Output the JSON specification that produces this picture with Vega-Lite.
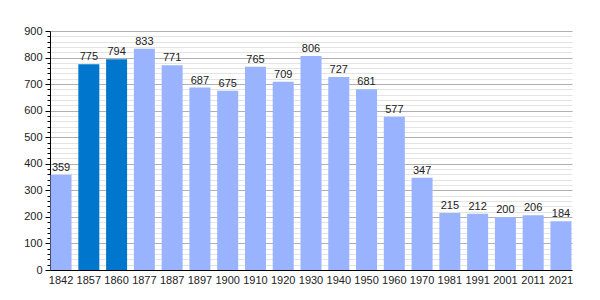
{
  "$schema": "https://vega.github.io/schema/vega-lite/v6.json",
  "autosize": "none",
  "width": 522,
  "height": 239,
  "padding": {"left": 50, "top": 31, "right": 28, "bottom": 30},
  "background": "white",
  "config": {
    "font": "Liberation Sans",
    "view": {"stroke": null}
  },
  "data": {
    "values": [
      {"year": "1842", "pop": 359},
      {"year": "1857", "pop": 775},
      {"year": "1860", "pop": 794},
      {"year": "1877", "pop": 833},
      {"year": "1887", "pop": 771},
      {"year": "1897", "pop": 687},
      {"year": "1900", "pop": 675},
      {"year": "1910", "pop": 765},
      {"year": "1920", "pop": 709},
      {"year": "1930", "pop": 806},
      {"year": "1940", "pop": 727},
      {"year": "1950", "pop": 681},
      {"year": "1960", "pop": 577},
      {"year": "1970", "pop": 347},
      {"year": "1981", "pop": 215},
      {"year": "1991", "pop": 212},
      {"year": "2001", "pop": 200},
      {"year": "2011", "pop": 206},
      {"year": "2021", "pop": 184}
    ]
  },
  "encoding": {
    "x": {
      "field": "year",
      "type": "ordinal",
      "sort": null,
      "scale": {"paddingInner": 0.244, "paddingOuter": 0.02},
      "axis": {
        "title": null,
        "labelAngle": 0,
        "ticks": false,
        "domainColor": "#000",
        "labelFontSize": 11,
        "labelColor": "#222",
        "labelPadding": 4
      }
    },
    "y": {
      "field": "pop",
      "type": "quantitative",
      "scale": {"domain": [0, 900], "nice": false},
      "axis": {
        "title": null,
        "values": [0,20,40,60,80,100,120,140,160,180,200,220,240,260,280,300,320,340,360,380,400,420,440,460,480,500,520,540,560,580,600,620,640,660,680,700,720,740,760,780,800,820,840,860,880,900],
        "labelExpr": "datum.value % 100 === 0 ? datum.label : ''",
        "grid": true,
        "gridColor": {"condition": {"test": "datum.value % 100 === 0", "value": "#b0b0b0"}, "value": "#e4e4e4"},
        "tickSize": {"condition": {"test": "datum.value % 100 === 0", "value": 5}, "value": 3},
        "tickColor": "#000",
        "domainColor": "#000",
        "labelFontSize": 11,
        "labelColor": "#222",
        "labelPadding": 3,
        "labelOverlap": false
      }
    }
  },
  "layer": [
    {
      "mark": {"type": "bar"},
      "encoding": {
        "color": {
          "condition": {"test": "datum.year === '1857' || datum.year === '1860'", "value": "#0077cc"},
          "value": "#99b3ff"
        }
      }
    },
    {
      "mark": {"type": "text", "dy": -7, "fontSize": 11, "color": "#222"},
      "encoding": {"text": {"field": "pop", "type": "quantitative"}}
    }
  ]
}
